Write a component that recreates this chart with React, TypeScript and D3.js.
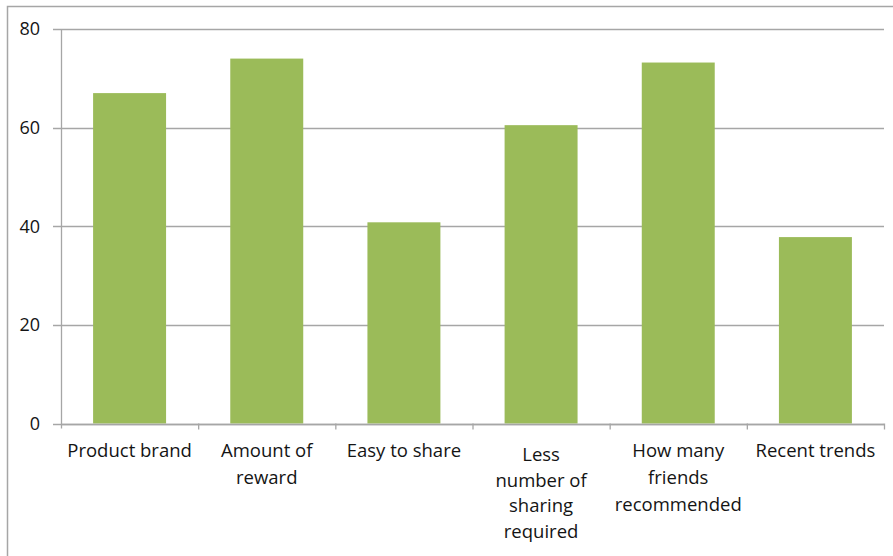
import React from 'react';
import * as d3 from 'd3';

const categories = [
  'Product brand',
  'Amount of reward',
  'Easy to share',
  'Less number of sharing required',
  'How many friends recommended',
  'Recent trends',
];
const labelLines = [
  ['Product brand'],
  ['Amount of', 'reward'],
  ['Easy to share'],
  ['Less', 'number of', 'sharing', 'required'],
  ['How many', 'friends', 'recommended'],
  ['Recent trends'],
];
const values = [67, 74, 40.8, 60.5, 73.2, 37.8];
const yTicks = [0, 20, 40, 60, 80];

const W = 893;
const H = 556;
const left = 61;
const right = 884;
const top = 29;
const bottom = 423.5;

const App = () => {
  const x = d3
    .scaleBand<string>()
    .domain(categories)
    .range([left, right])
    .paddingInner(0.468)
    .paddingOuter(0.234);
  const y = d3.scaleLinear().domain([0, 80]).range([bottom, top]);
  const step = x.step();
  const font = '"Open Sans", Lato, sans-serif';

  return (
    <svg
      width={W}
      height={H}
      style={{ position: 'absolute', left: 0, top: 0, background: '#fff' }}
      fontFamily={font}
    >
      {/* chart frame */}
      <rect x={7.5} y={6.5} width={W + 10} height={H + 10} fill="#fff" stroke="#a6a6a6" strokeWidth={1.5} />

      {/* gridlines + y labels */}
      {yTicks.map((t) => (
        <g key={t}>
          <line
            x1={53}
            x2={right}
            y1={Math.round(y(t)) + 0.5}
            y2={Math.round(y(t)) + 0.5}
            stroke="#a6a6a6"
            strokeWidth={1.3}
          />
          <text x={40} y={y(t)} dy="0.36em" textAnchor="end" fontSize={18} fill="#141414">
            {t}
          </text>
        </g>
      ))}

      {/* bars */}
      {values.map((v, i) => (
        <rect
          key={categories[i]}
          x={x(categories[i])}
          y={y(v)}
          width={x.bandwidth()}
          height={y(0) - y(v)}
          fill="#9bbb59"
        />
      ))}

      {/* y axis */}
      <line x1={left + 0.5} x2={left + 0.5} y1={top} y2={bottom + 5} stroke="#a6a6a6" strokeWidth={1.3} />
      {/* x axis */}
      <line x1={left} x2={right} y1={Math.round(bottom) + 0.5} y2={Math.round(bottom) + 0.5} stroke="#a6a6a6" strokeWidth={1.3} />
      {categories.map((c, i) => (
        <line
          key={'t' + i}
          x1={left + step * (i + 1) + 0.5}
          x2={left + step * (i + 1) + 0.5}
          y1={bottom}
          y2={bottom + 6}
          stroke="#a6a6a6"
          strokeWidth={1.3}
        />
      ))}

      {/* category labels */}
      {categories.map((c, i) => {
        const cx = (x(c) ?? 0) + x.bandwidth() / 2;
        const lines = labelLines[i];
        const y0 = lines.length > 3 ? 461 : 457;
        const lh = lines.length > 3 ? 25.5 : 27;
        return (
          <text key={'l' + i} textAnchor="middle" fontSize={18.5} fill="#141414">
            {lines.map((ln, j) => (
              <tspan key={j} x={cx} y={y0 + j * lh}>
                {ln}
              </tspan>
            ))}
          </text>
        );
      })}
    </svg>
  );
};

export default App;
